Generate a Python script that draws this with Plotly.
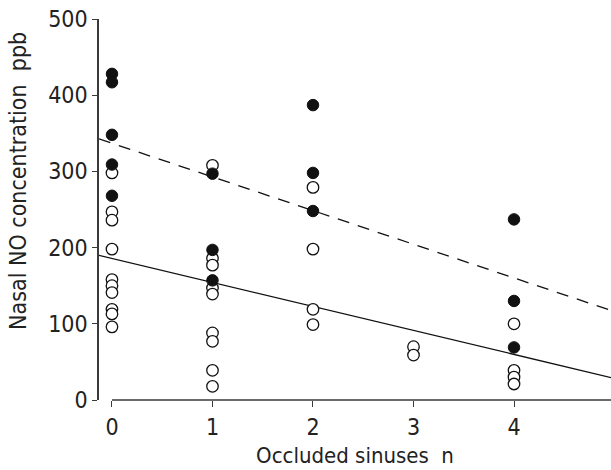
import plotly.graph_objects as go

# ---- data ----
x_filled = [0, 0, 0, 0, 0, 1, 1, 1, 2, 2, 2, 4, 4, 4]
y_filled = [428, 417, 348, 309, 268, 297, 197, 157, 387, 298, 248, 237, 130, 69]

x_open = [0, 0, 0, 0, 0, 0, 0, 0, 0, 0,
          1, 1, 1, 1, 1, 1, 1, 1, 1,
          2, 2, 2, 2,
          3, 3,
          4, 4, 4, 4]
y_open = [298, 247, 236, 198, 158, 150, 141, 119, 113, 96,
          308, 186, 177, 147, 139, 88, 77, 39, 18,
          279, 198, 119, 99,
          70, 59,
          100, 39, 30, 21]

fit_x = [-0.13, 4.97]
fit_solid_y = [189.9, 29.3]
fit_dashed_y = [342.7, 117.3]

x_ticks = [0, 1, 2, 3, 4]
y_ticks = [0, 100, 200, 300, 400, 500]

X_RANGE = [-0.129, 4.965]
Y_RANGE = [0, 500]

FONT = "DejaVu Sans Condensed, Liberation Sans Narrow, sans-serif"
AX = "#3a3a3a"

fig = go.Figure()

fig.add_trace(go.Scatter(x=fit_x, y=fit_dashed_y, mode="lines",
                         line=dict(color="#111", width=1.3, dash="12px,9px"),
                         hoverinfo="skip", showlegend=False))
fig.add_trace(go.Scatter(x=fit_x, y=fit_solid_y, mode="lines",
                         line=dict(color="#111", width=1.3),
                         hoverinfo="skip", showlegend=False))
fig.add_trace(go.Scatter(x=x_open, y=y_open, mode="markers",
                         marker=dict(size=11.5, color="white",
                                     line=dict(color="#111", width=1.3)),
                         showlegend=False))
fig.add_trace(go.Scatter(x=x_filled, y=y_filled, mode="markers",
                         marker=dict(size=11.5, color="#111",
                                     line=dict(color="#111", width=1)),
                         showlegend=False))

# detached x-axis line starting at x=0
fig.add_shape(type="line", xref="x", yref="paper",
              x0=x_ticks[0], x1=X_RANGE[1], y0=0, y1=0,
              line=dict(color=AX, width=1.5), layer="below")

# y-axis title (placed slightly above centre, as in the reference)
fig.add_annotation(text="Nasal NO concentration  ppb", textangle=-90,
                   xref="paper", yref="paper", x=0, y=0.575,
                   xanchor="center", yanchor="middle", xshift=-81,
                   showarrow=False, font=dict(size=23, color="#222"))

fig.update_layout(
    width=611, height=470,
    margin=dict(l=99, r=0, t=19, b=70),
    paper_bgcolor="white", plot_bgcolor="white",
    font=dict(family=FONT, color="#222", size=23),
    xaxis=dict(range=X_RANGE, tickvals=x_ticks, ticktext=[str(v) for v in x_ticks],
               showline=False, showgrid=False, zeroline=False,
               ticks="outside", ticklen=6, tickwidth=1.4, tickcolor=AX,
               tickfont=dict(size=23),
               title=dict(text="Occluded sinuses  n", font=dict(size=22), standoff=9)),
    yaxis=dict(range=Y_RANGE, tickvals=y_ticks, ticktext=[str(v) for v in y_ticks],
               showline=True, linecolor=AX, linewidth=1.5,
               showgrid=False, zeroline=False,
               ticks="outside", ticklen=5, tickwidth=1.4, tickcolor=AX,
               tickfont=dict(size=23)),
)

fig.write_html("out.html")
